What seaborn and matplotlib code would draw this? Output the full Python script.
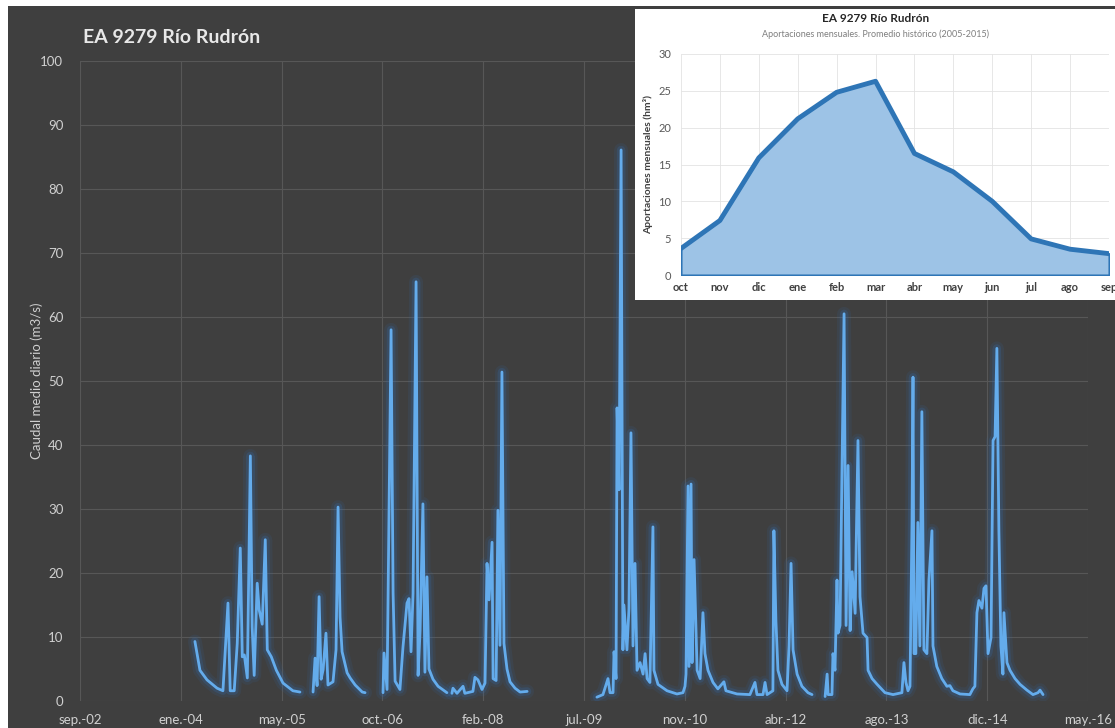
import matplotlib
matplotlib.use("Agg")
import matplotlib.pyplot as plt
import seaborn as sns
import pandas as pd
from matplotlib.patches import Rectangle

# Caudal medio diario EA 9279 (None = hueco sin datos)
fechas = [
    # 2003-04 / 2004-05
    '2004-03-24', '2004-04-18', '2004-05-23', '2004-07-12', '2004-08-10', '2004-09-04', '2004-09-15',
    '2004-10-05', '2004-10-20', '2004-11-04', '2004-11-14', '2004-11-24', '2004-12-09', '2004-12-24',
    '2005-01-02', '2005-01-12', '2005-01-27', '2005-02-06', '2005-02-21', '2005-03-08', '2005-03-18',
    '2005-04-07', '2005-05-02', '2005-06-04', '2005-07-23', '2005-08-27', '2005-10-01',
    # 2005-06
    '2005-10-31', '2005-11-10', '2005-11-20', '2005-11-30', '2005-12-10', '2005-12-20', '2006-01-03',
    '2006-01-13', '2006-02-07', '2006-02-22', '2006-03-04', '2006-03-14', '2006-03-24', '2006-04-18',
    '2006-05-03', '2006-05-28', '2006-07-02', '2006-07-16', '2006-08-20',
    # 2006-07
    '2006-10-13', '2006-10-18', '2006-11-02', '2006-11-22', '2006-12-02', '2006-12-12', '2007-01-05',
    '2007-01-20', '2007-02-09', '2007-02-19', '2007-03-01', '2007-03-11', '2007-03-26', '2007-04-05',
    '2007-04-15', '2007-04-29', '2007-05-09', '2007-05-19', '2007-05-29', '2007-06-18', '2007-07-13',
    '2007-08-26', '2007-09-10',
    # 2007-08
    '2007-09-20', '2007-09-25', '2007-10-15', '2007-11-14', '2007-11-23', '2008-01-02', '2008-01-12',
    '2008-01-27', '2008-02-16', '2008-03-02', '2008-03-12', '2008-03-22', '2008-04-06', '2008-04-11',
    '2008-04-26', '2008-05-05', '2008-05-15', '2008-05-25', '2008-06-04', '2008-06-19', '2008-07-04',
    '2008-07-29', '2008-08-23', '2008-09-27', '2009-01-01',
    # 2009-10 a 2011-12
    '2009-09-08', '2009-10-08', '2009-11-02', '2009-11-12', '2009-11-27', '2009-12-02', '2009-12-12',
    '2009-12-17', '2009-12-27', '2010-01-06', '2010-01-15', '2010-01-20', '2010-02-04', '2010-02-14',
    '2010-02-24', '2010-03-06', '2010-03-16', '2010-03-26', '2010-04-10', '2010-04-25', '2010-05-05',
    '2010-05-15', '2010-05-29', '2010-06-13', '2010-06-18', '2010-07-08', '2010-08-22', '2010-10-10',
    '2010-11-09', '2010-11-19', '2010-11-24', '2010-12-04', '2010-12-09', '2010-12-19', '2010-12-24',
    '2011-01-03', '2011-01-18', '2011-02-02', '2011-02-16', '2011-02-26', '2011-03-13', '2011-04-07',
    '2011-05-01', '2011-05-31', '2011-06-10', '2011-08-04', '2011-10-07', '2011-11-01', '2011-11-11',
    '2011-12-11', '2011-12-21', '2011-12-31', '2012-01-29', '2012-02-03', '2012-02-13', '2012-02-23',
    '2012-03-14', '2012-04-08', '2012-04-18', '2012-04-28', '2012-05-08', '2012-05-28', '2012-06-21',
    '2012-07-21', '2012-08-10', '2012-09-01',
    # 2012-13 a 2014-15
    '2012-10-14', '2012-10-24', '2012-10-29', '2012-11-17', '2012-11-22', '2012-12-02', '2012-12-12',
    '2012-12-17', '2012-12-27', '2013-01-06', '2013-01-16', '2013-01-26', '2013-02-05', '2013-02-15',
    '2013-02-25', '2013-03-12', '2013-03-17', '2013-03-26', '2013-04-05', '2013-04-20', '2013-05-10',
    '2013-05-15', '2013-06-04', '2013-06-29', '2013-08-07', '2013-09-16', '2013-10-30', '2013-11-09',
    '2013-11-19', '2013-11-29', '2013-12-09', '2013-12-19', '2013-12-24', '2013-12-29', '2014-01-07',
    '2014-01-17', '2014-01-27', '2014-02-06', '2014-02-16', '2014-03-03', '2014-03-13', '2014-03-28',
    '2014-04-02', '2014-04-21', '2014-05-16', '2014-06-10', '2014-06-25', '2014-07-10', '2014-08-14',
    '2014-10-02', '2014-10-17', '2014-10-27', '2014-11-06', '2014-11-16', '2014-12-01', '2014-12-11',
    '2014-12-21', '2014-12-31', '2015-01-15', '2015-01-25', '2015-02-04', '2015-02-13', '2015-02-23',
    '2015-03-05', '2015-03-15', '2015-03-20', '2015-04-04', '2015-04-19', '2015-05-14', '2015-06-08',
    '2015-07-12', '2015-08-11', '2015-09-05', '2015-09-15', '2015-09-30',
]
caudal = [
    9.3, 4.8, 3.3, 2.0, 1.6, 15.3, 1.6,
    1.6, 9.0, 23.9, 6.9, 7.2, 3.6, 38.3,
    11.6, 4.0, 18.4, 14.2, 12.0, 25.2, 8.0,
    6.9, 4.8, 2.8, 1.6, 1.4, None,
    1.4, 6.7, 2.4, 16.3, 3.4, 4.9, 10.6,
    2.5, 3.0, 8.0, 30.3, 13.1, 7.7, 4.4,
    3.6, 2.5, 1.4, 1.3, None,
    1.3, 7.5, 1.8, 58.0, 16.9, 3.1, 1.8,
    8.4, 15.3, 16.0, 7.7, 16.8, 65.5, 4.0,
    11.0, 30.8, 4.5, 19.4, 5.0, 3.4, 2.3,
    1.3, None,
    1.2, 2.0, 1.2, 2.3, 1.2, 1.5, 3.7,
    3.3, 1.8, 2.8, 21.5, 15.8, 24.8, 3.5,
    3.2, 29.8, 8.7, 51.4, 9.0, 5.0, 3.0,
    2.0, 1.4, 1.5, None,
    0.6, 1.0, 3.5, 1.3, 1.3, 7.7, 3.5,
    45.8, 33.0, 86.1, 8.0, 15.0, 8.0, 14.4,
    41.9, 8.6, 21.5, 4.8, 6.0, 4.2, 7.4,
    3.5, 2.9, 27.2, 4.8, 2.6, 1.6, 1.1,
    1.3, 2.3, 4.2, 33.6, 5.4, 33.9, 6.0,
    22.1, 4.8, 3.5, 13.8, 7.4, 4.8, 2.9,
    1.9, 3.0, 1.6, 1.1, 1.0, 2.9, 1.0,
    1.0, 2.9, 1.0, 1.6, 26.6, 12.5, 4.8,
    2.6, 1.6, 8.6, 21.5, 8.0, 4.2, 2.3,
    1.3, 1.0, None,
    0.7, 4.2, 1.0, 1.0, 7.4, 4.8, 18.9,
    10.6, 11.8, 36.8, 60.5, 11.8, 36.8, 11.0,
    20.2, 13.7, 24.0, 40.7, 16.3, 10.6, 9.9,
    4.8, 3.5, 2.6, 1.3, 1.0, 1.3, 6.0,
    2.9, 1.6, 2.3, 27.9, 50.6, 7.4, 7.4,
    27.9, 8.6, 45.2, 8.0, 7.4, 18.9, 26.6,
    8.6, 5.4, 3.5, 2.3, 2.4, 1.6, 1.1,
    1.0, 1.9, 2.3, 13.8, 15.7, 14.5, 17.6,
    18.0, 7.4, 9.9, 40.7, 41.3, 55.1, 26.6,
    8.6, 4.2, 13.8, 6.0, 4.8, 3.5, 2.6,
    1.7, 1.0, 1.3, 1.7, 1.0,
]

# Ticks del eje X (cada 500 dias, como en Excel)
tick_fechas = ['2002-09-01', '2004-01-14', '2005-05-28', '2006-10-10', '2008-02-22', '2009-07-06',
               '2010-11-18', '2012-04-01', '2013-08-14', '2014-12-27', '2016-05-10']
tick_etiquetas = ['sep.-02', 'ene.-04', 'may.-05', 'oct.-06', 'feb.-08', 'jul.-09',
                  'nov.-10', 'abr.-12', 'ago.-13', 'dic.-14', 'may.-16']

# Aportaciones mensuales, promedio historico 2005-2015 (hm3)
meses = ['oct', 'nov', 'dic', 'ene', 'feb', 'mar', 'abr', 'may', 'jun', 'jul', 'ago', 'sep']
aportaciones = [3.6, 7.4, 15.9, 21.2, 24.8, 26.3, 16.5, 14.0, 10.0, 4.9, 3.5, 2.9]

sns.set_style("dark")
plt.rcParams['font.family'] = ['Lato', 'DejaVu Sans']

df = pd.DataFrame({"fecha": pd.to_datetime(fechas), "caudal": caudal})
df["tramo"] = df["caudal"].isna().cumsum()
df = df.dropna()

fig = plt.figure(figsize=(11.15, 7.28), dpi=100, facecolor="white")
# fondo oscuro del grafico
fig.patches.append(Rectangle((8 / 1115, 0), 1, 722 / 728, transform=fig.transFigure,
                             facecolor="#3f3f3f", edgecolor="none", zorder=-5))

ax = fig.add_axes([80 / 1115, 1 - 701 / 728, 1008 / 1115, 640 / 728], zorder=1)
ax.set_facecolor("none")

# efecto "glow" de la linea
for lw, a in [(10, 0.10), (6, 0.20)]:
    sns.lineplot(data=df, x="fecha", y="caudal", units="tramo", estimator=None,
                 color="#2f72c0", lw=lw, alpha=a, ax=ax)
sns.lineplot(data=df, x="fecha", y="caudal", units="tramo", estimator=None,
             color="#64acec", lw=2, ax=ax)

ax.set_xlim(pd.Timestamp(tick_fechas[0]), pd.Timestamp(tick_fechas[-1]))
ax.set_ylim(0, 100)
ax.set_xticks(pd.to_datetime(tick_fechas))
ax.set_xticklabels(tick_etiquetas)
ax.set_yticks(range(0, 101, 10))
ax.grid(True, color="#575757", lw=0.8)
for s in ax.spines.values():
    s.set_visible(False)
ax.tick_params(colors="#d0d0d0", labelsize=9.5, length=0)
ax.tick_params(axis="x", pad=9)
ax.tick_params(axis="y", pad=12)
ax.set_xlabel("")
ax.set_ylabel("Caudal medio diario (m3/s)", color="#d0d0d0", fontsize=9.5, labelpad=-2)

fig.text(83 / 1115, 1 - 43 / 728, "EA 9279 Río Rudrón", color="#e8e8e8",
         fontsize=14, fontweight="bold", va="baseline")

# grafico insertado: aportaciones mensuales
fig.patches.append(Rectangle((635 / 1115, 1 - 300 / 728), 1, 291 / 728, transform=fig.transFigure,
                             facecolor="white", edgecolor="none", zorder=5))
axi = fig.add_axes([681 / 1115, 1 - 275 / 728, 428 / 1115, 221 / 728], zorder=6)
axi.set_facecolor("white")
axi.fill_between(range(len(meses)), aportaciones, color="#9dc3e6", edgecolor="#2e75b6", lw=1.5)
sns.lineplot(x=meses, y=aportaciones, sort=False, color="#2e75b6", lw=3.5, ax=axi)
axi.set_xlim(0, len(meses) - 1)
axi.set_ylim(0, 30)
axi.set_yticks(range(0, 31, 5))
axi.grid(True, color="#e3e3e3", lw=0.6)
for s in axi.spines.values():
    s.set_visible(False)
axi.tick_params(length=0, labelsize=8)
axi.tick_params(axis="y", colors="#595959", pad=7)
axi.tick_params(axis="x", colors="#404040", pad=5)
for t in axi.get_xticklabels():
    t.set_fontweight("bold")
axi.set_ylabel("Aportaciones mensuales (hm³)", color="#404040", fontsize=7.5,
               fontweight="bold", labelpad=4)
fig.text(876 / 1115, 1 - 19 / 728, "EA 9279 Río Rudrón", color="#262626", fontsize=8.5,
         fontweight="bold", ha="center", va="center", zorder=7)
fig.text(876 / 1115, 1 - 34 / 728, "Aportaciones mensuales. Promedio histórico (2005-2015)",
         color="#7f7f7f", fontsize=6.5, ha="center", va="center", zorder=7)

fig.savefig("out.png", dpi=100, facecolor=fig.get_facecolor())
